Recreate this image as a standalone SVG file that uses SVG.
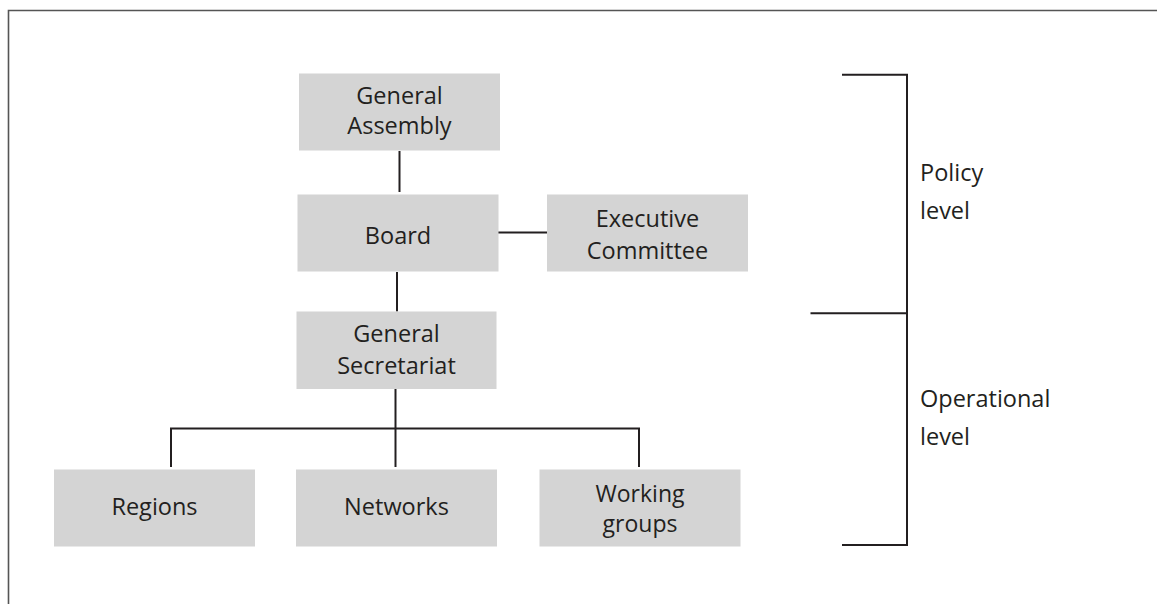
<svg xmlns="http://www.w3.org/2000/svg" width="1157" height="604" viewBox="0 0 1157 604">
<style>
.box{fill:#d4d4d4;}
.t{font-family:"Open Sans","Noto Sans","Liberation Sans",sans-serif;font-size:23.5px;fill:#231f20;text-anchor:middle;}
.tl{font-family:"Open Sans","Noto Sans","Liberation Sans",sans-serif;font-size:23.5px;fill:#231f20;}
.ln{stroke:#231f20;stroke-width:2;fill:none;}
.frame{stroke:#555;stroke-width:1.6;fill:none;}
</style>
<rect width="1157" height="604" fill="#fff"/>
<path class="frame" d="M8.5,604 V10.5 H1157"/>
<g id="connectors">
<line class="ln" x1="399.5" y1="151" x2="399.5" y2="192"/>
<line class="ln" x1="498" y1="232.5" x2="547" y2="232.5"/>
<line class="ln" x1="397" y1="272" x2="397" y2="311.5"/>
<line class="ln" x1="395.5" y1="389" x2="395.5" y2="467"/>
<path class="ln" d="M171,467 V428.5 H639 V467"/>
</g>
<g id="general-assembly">
<rect class="box" x="299" y="73.5" width="201" height="77"/>
<text class="t" x="399.5" y="103.5">General</text>
<text class="t" x="399.5" y="134">Assembly</text>
</g>
<g id="board">
<rect class="box" x="297.5" y="194.5" width="201" height="77"/>
<text class="t" x="398" y="243.5">Board</text>
</g>
<g id="executive-committee">
<rect class="box" x="547" y="194.5" width="201" height="77"/>
<text class="t" x="647.5" y="226.5">Executive</text>
<text class="t" x="647.5" y="259">Committee</text>
</g>
<g id="general-secretariat">
<rect class="box" x="296.5" y="311.5" width="200" height="77.5"/>
<text class="t" x="396.5" y="341.5">General</text>
<text class="t" x="396.5" y="373.5">Secretariat</text>
</g>
<g id="regions">
<rect class="box" x="54" y="469.5" width="201" height="77"/>
<text class="t" x="154.5" y="515">Regions</text>
</g>
<g id="networks">
<rect class="box" x="296" y="469.5" width="201" height="77"/>
<text class="t" x="396.5" y="515">Networks</text>
</g>
<g id="working-groups">
<rect class="box" x="539.5" y="469.5" width="201" height="77"/>
<text class="t" x="640" y="502" style="font-size:23px">Working</text>
<text class="t" x="640" y="532" style="font-size:23px">groups</text>
</g>
<g id="levels">
<path class="ln" d="M842,74.8 H907 V545 H842"/>
<line class="ln" x1="810.5" y1="313.3" x2="907" y2="313.3"/>
<text class="tl" x="920" y="180.5">Policy</text>
<text class="tl" x="920" y="219">level</text>
<text class="tl" x="920" y="406.5">Operational</text>
<text class="tl" x="920" y="445">level</text>
</g>
</svg>
